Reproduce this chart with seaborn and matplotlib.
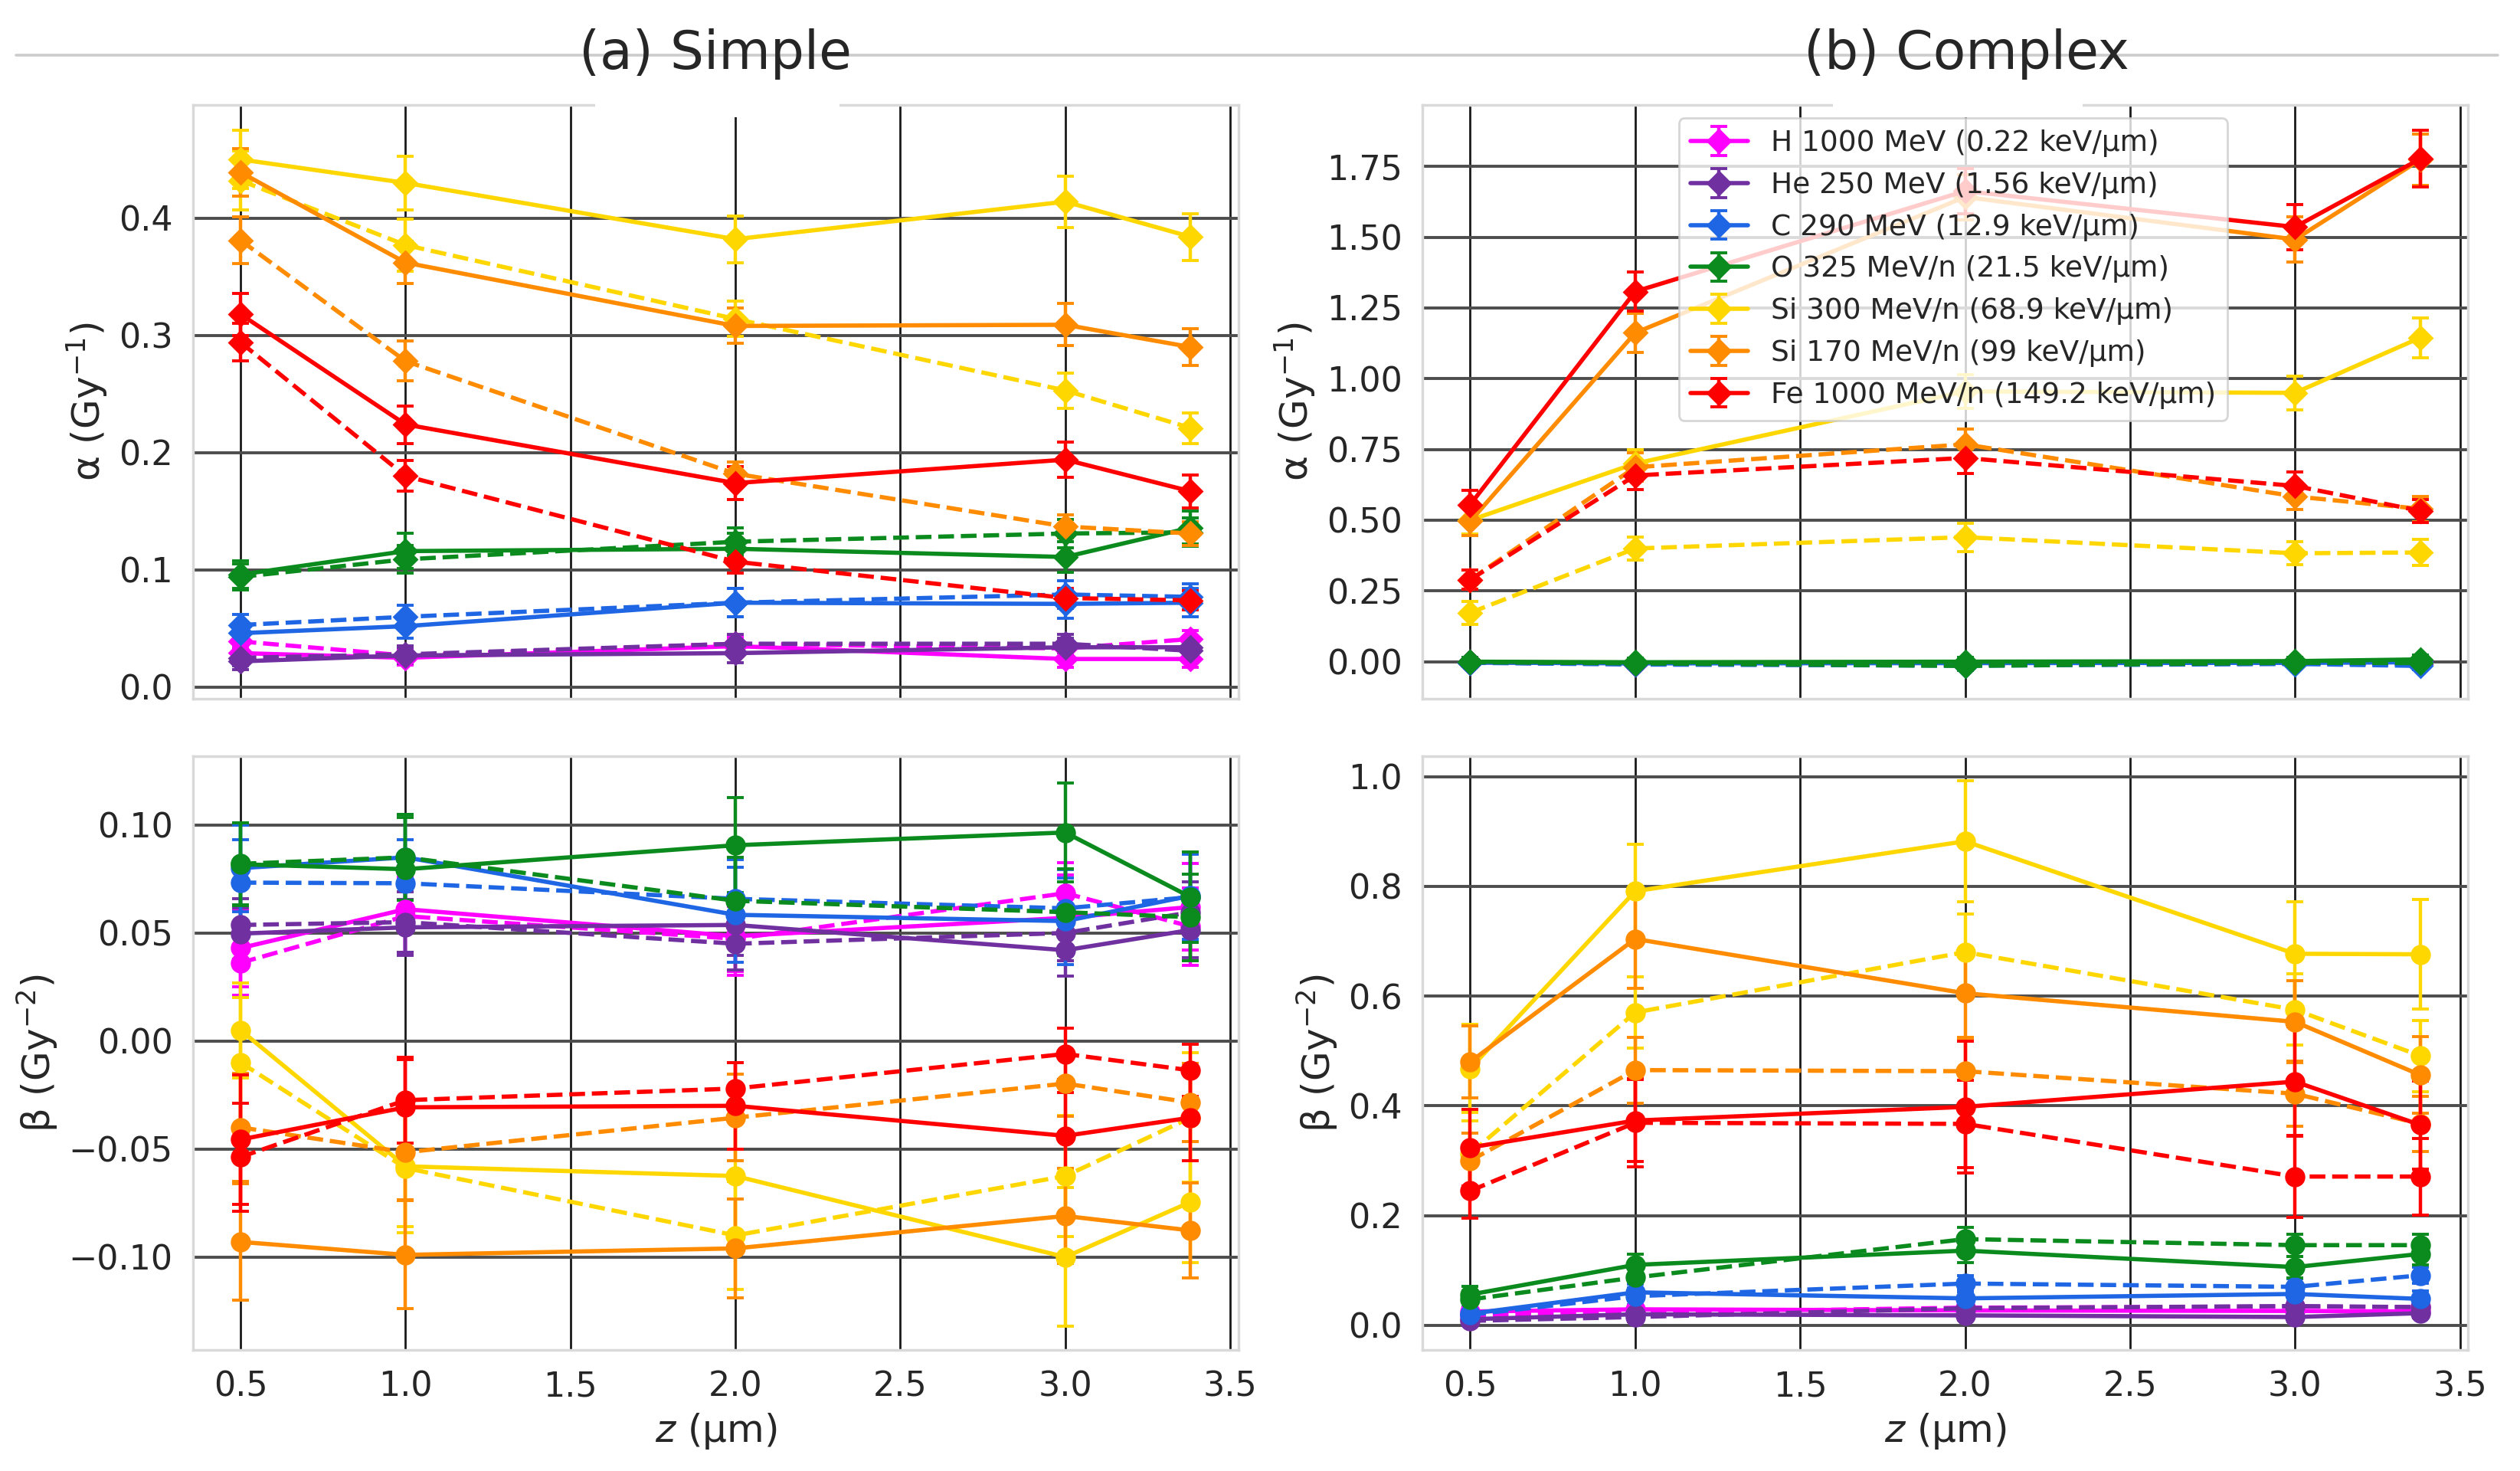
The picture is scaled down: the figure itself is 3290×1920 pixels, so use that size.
import seaborn as sns
import matplotlib.pyplot as plt
from matplotlib.lines import Line2D
from matplotlib.patches import Rectangle

# depth points (um)
z = [0.5, 1.0, 2.0, 3.0, 3.38]

ions = ["H 1000 MeV (0.22 keV/μm)", "He 250 MeV (1.56 keV/μm)", "C 290 MeV (12.9 keV/μm)",
        "O 325 MeV/n (21.5 keV/μm)", "Si 300 MeV/n (68.9 keV/μm)", "Si 170 MeV/n (99 keV/μm)",
        "Fe 1000 MeV/n (149.2 keV/μm)"]
cores = ["#ff00ff", "#7030a0", "#1f66e5", "#0b8a1e", "#ffd700", "#ff8c00", "#ff0000"]

# (a) simple - alpha
alfa_simples = [[0.029, 0.025, 0.035, 0.024, 0.024],
                [0.022, 0.027, 0.029, 0.034, 0.034],
                [0.046, 0.052, 0.072, 0.071, 0.072],
                [0.096, 0.116, 0.118, 0.111, 0.136],
                [0.450, 0.430, 0.382, 0.414, 0.384],
                [0.439, 0.362, 0.308, 0.309, 0.290],
                [0.318, 0.224, 0.174, 0.194, 0.167]]
alfa_simples_err = [[0.007, 0.006, 0.007, 0.007, 0.007],
                    [0.007, 0.007, 0.008, 0.008, 0.008],
                    [0.009, 0.010, 0.012, 0.012, 0.012],
                    [0.012, 0.015, 0.013, 0.013, 0.014],
                    [0.025, 0.023, 0.020, 0.022, 0.020],
                    [0.020, 0.018, 0.015, 0.018, 0.016],
                    [0.018, 0.016, 0.014, 0.015, 0.014]]
alfa_simples_tr = [[0.039, 0.027, 0.037, 0.033, 0.041],
                   [0.025, 0.028, 0.037, 0.037, 0.031],
                   [0.053, 0.060, 0.072, 0.079, 0.077],
                   [0.094, 0.109, 0.124, 0.131, 0.132],
                   [0.432, 0.377, 0.314, 0.253, 0.221],
                   [0.381, 0.278, 0.182, 0.137, 0.131],
                   [0.294, 0.180, 0.107, 0.076, 0.074]]
alfa_simples_tr_err = [[0.006, 0.006, 0.007, 0.007, 0.007],
                       [0.007, 0.007, 0.008, 0.008, 0.008],
                       [0.009, 0.010, 0.012, 0.012, 0.011],
                       [0.011, 0.012, 0.012, 0.012, 0.012],
                       [0.025, 0.022, 0.015, 0.015, 0.013],
                       [0.020, 0.017, 0.010, 0.010, 0.010],
                       [0.016, 0.013, 0.010, 0.008, 0.008]]

# (a) simple - beta
beta_simples = [[0.043, 0.061, 0.0485, 0.057, 0.062],
                [0.0497, 0.0526, 0.0537, 0.042, 0.0514],
                [0.080, 0.085, 0.0584, 0.0555, 0.0672],
                [0.0818, 0.0795, 0.0906, 0.0965, 0.0666],
                [0.005, -0.058, -0.0625, -0.100, -0.0745],
                [-0.093, -0.099, -0.096, -0.081, -0.0877],
                [-0.0456, -0.0307, -0.030, -0.0439, -0.0355]]
beta_simples_err = [[0.018, 0.020, 0.018, 0.020, 0.020],
                    [0.012, 0.013, 0.014, 0.012, 0.013],
                    [0.020, 0.020, 0.022, 0.020, 0.020],
                    [0.019, 0.024, 0.022, 0.023, 0.021],
                    [0.022, 0.028, 0.028, 0.032, 0.028],
                    [0.027, 0.025, 0.023, 0.022, 0.022],
                    [0.030, 0.022, 0.020, 0.020, 0.020]]
beta_simples_tr = [[0.0362, 0.0578, 0.0473, 0.0684, 0.053],
                   [0.0537, 0.055, 0.045, 0.050, 0.0596],
                   [0.0733, 0.073, 0.0658, 0.0614, 0.0666],
                   [0.082, 0.085, 0.0649, 0.0596, 0.0573],
                   [-0.010, -0.0588, -0.090, -0.0625, -0.0355],
                   [-0.040, -0.0515, -0.0355, -0.0197, -0.0285],
                   [-0.0537, -0.0274, -0.022, -0.006, -0.0136]]
beta_simples_tr_err = [[0.015, 0.018, 0.015, 0.014, 0.018],
                       [0.012, 0.014, 0.012, 0.013, 0.014],
                       [0.020, 0.020, 0.018, 0.018, 0.020],
                       [0.019, 0.020, 0.020, 0.020, 0.020],
                       [0.030, 0.030, 0.025, 0.028, 0.030],
                       [0.025, 0.022, 0.020, 0.015, 0.018],
                       [0.025, 0.020, 0.012, 0.012, 0.012]]

# (b) complex - alpha
alfa_complexo = [[-0.002, -0.004, -0.003, -0.002, 0.000],
                 [-0.002, -0.004, -0.004, -0.003, -0.001],
                 [-0.003, -0.006, -0.005, -0.004, -0.002],
                 [0.000, -0.002, 0.000, 0.002, 0.008],
                 [0.500, 0.700, 0.955, 0.950, 1.145],
                 [0.496, 1.162, 1.642, 1.492, 1.774],
                 [0.555, 1.308, 1.663, 1.536, 1.777]]
alfa_complexo_err = [[0.012, 0.012, 0.012, 0.012, 0.012],
                     [0.012, 0.012, 0.012, 0.012, 0.012],
                     [0.012, 0.012, 0.014, 0.012, 0.014],
                     [0.014, 0.014, 0.016, 0.014, 0.016],
                     [0.050, 0.050, 0.060, 0.060, 0.070],
                     [0.050, 0.070, 0.080, 0.080, 0.090],
                     [0.050, 0.070, 0.080, 0.080, 0.100]]
alfa_complexo_tr = [[-0.003, -0.008, -0.012, -0.006, -0.008],
                    [-0.003, -0.008, -0.010, -0.006, -0.010],
                    [-0.004, -0.010, -0.014, -0.008, -0.015],
                    [-0.002, -0.006, -0.015, -0.004, -0.005],
                    [0.173, 0.400, 0.440, 0.383, 0.386],
                    [0.290, 0.687, 0.768, 0.584, 0.540],
                    [0.290, 0.658, 0.720, 0.621, 0.533]]
alfa_complexo_tr_err = [[0.012, 0.012, 0.012, 0.012, 0.012],
                        [0.012, 0.012, 0.012, 0.012, 0.012],
                        [0.012, 0.012, 0.014, 0.012, 0.014],
                        [0.014, 0.014, 0.016, 0.014, 0.016],
                        [0.040, 0.040, 0.050, 0.040, 0.045],
                        [0.035, 0.050, 0.055, 0.045, 0.045],
                        [0.035, 0.050, 0.055, 0.050, 0.040]]

# (b) complex - beta
beta_complexo = [[0.025, 0.029, 0.027, 0.026, 0.025],
                 [0.011, 0.020, 0.018, 0.015, 0.022],
                 [0.021, 0.060, 0.049, 0.057, 0.048],
                 [0.056, 0.110, 0.136, 0.106, 0.130],
                 [0.468, 0.791, 0.882, 0.677, 0.676],
                 [0.480, 0.704, 0.605, 0.553, 0.456],
                 [0.324, 0.373, 0.398, 0.444, 0.365]]
beta_complexo_err = [[0.008, 0.008, 0.008, 0.008, 0.008],
                     [0.008, 0.008, 0.008, 0.008, 0.008],
                     [0.012, 0.015, 0.015, 0.015, 0.015],
                     [0.015, 0.020, 0.022, 0.020, 0.020],
                     [0.080, 0.085, 0.110, 0.095, 0.100],
                     [0.065, 0.090, 0.080, 0.075, 0.070],
                     [0.070, 0.075, 0.120, 0.100, 0.080]]
beta_complexo_tr = [[0.018, 0.023, 0.032, 0.034, 0.033],
                    [0.008, 0.015, 0.031, 0.035, 0.033],
                    [0.019, 0.053, 0.076, 0.070, 0.091],
                    [0.047, 0.087, 0.157, 0.146, 0.146],
                    [0.313, 0.570, 0.680, 0.575, 0.491],
                    [0.300, 0.465, 0.463, 0.422, 0.367],
                    [0.245, 0.369, 0.367, 0.271, 0.271]]
beta_complexo_tr_err = [[0.008, 0.008, 0.008, 0.008, 0.008],
                        [0.008, 0.008, 0.008, 0.008, 0.008],
                        [0.012, 0.015, 0.015, 0.015, 0.015],
                        [0.015, 0.020, 0.022, 0.020, 0.020],
                        [0.060, 0.065, 0.070, 0.065, 0.065],
                        [0.050, 0.060, 0.060, 0.060, 0.050],
                        [0.050, 0.080, 0.080, 0.075, 0.070]]

xticks = [0.5, 1.0, 1.5, 2.0, 2.5, 3.0, 3.5]
yticks_alfa_s = [0.0, 0.1, 0.2, 0.3, 0.4]
yticks_beta_s = [-0.10, -0.05, 0.00, 0.05, 0.10]
yticks_alfa_c = [0.00, 0.25, 0.50, 0.75, 1.00, 1.25, 1.50, 1.75]
yticks_beta_c = [0.0, 0.2, 0.4, 0.6, 0.8, 1.0]


def desenhar(ax, cheio, cheio_err, tracejado, tracejado_err, marcador, ms):
    for i in range(len(ions)):
        ax.errorbar(z, cheio[i], yerr=cheio_err[i], color=cores[i], ls='-', lw=2.0,
                    marker=marcador, ms=ms, capsize=4, elinewidth=1.6, capthick=1.4,
                    label=ions[i])
        ax.errorbar(z, tracejado[i], yerr=tracejado_err[i], color=cores[i], ls='--', lw=2.0,
                    marker=marcador, ms=ms, capsize=4, elinewidth=1.6, capthick=1.4)


sns.set_theme(style="whitegrid", rc={"grid.color": "0.2", "grid.linewidth": 1.0,
                                     "axes.edgecolor": "0.85", "mathtext.fontset": "dejavusans"})
plt.rcParams['font.family'] = ['DejaVu Sans']

fig, axes = plt.subplots(2, 2, figsize=(16.455, 9.6), dpi=200)
plt.subplots_adjust(left=0.0766, right=0.979, bottom=0.0823, top=0.9286, wspace=0.1766, hspace=0.0968)

desenhar(axes[0, 0], alfa_simples, alfa_simples_err, alfa_simples_tr, alfa_simples_tr_err, 'D', 7.5)
desenhar(axes[1, 0], beta_simples, beta_simples_err, beta_simples_tr, beta_simples_tr_err, 'o', 8.5)
desenhar(axes[0, 1], alfa_complexo, alfa_complexo_err, alfa_complexo_tr, alfa_complexo_tr_err, 'D', 7.5)
desenhar(axes[1, 1], beta_complexo, beta_complexo_err, beta_complexo_tr, beta_complexo_tr_err, 'o', 8.5)

axes[0, 0].set_ylim(-0.0099, 0.4964)
axes[1, 0].set_ylim(-0.143, 0.1318)
axes[0, 1].set_ylim(-0.131, 1.967)
axes[1, 1].set_ylim(-0.045, 1.037)
axes[0, 0].set_yticks(yticks_alfa_s)
axes[1, 0].set_yticks(yticks_beta_s)
axes[0, 1].set_yticks(yticks_alfa_c)
axes[1, 1].set_yticks(yticks_beta_c)

for ax in axes.flat:
    ax.set_xlim(0.356, 3.524)
    ax.set_xticks(xticks)
    ax.tick_params(labelsize=16)
    ax.xaxis.grid(True, color='0.1', lw=1.0)
    ax.yaxis.grid(True, color='0.3', lw=1.4)
for ax in axes[0]:
    ax.tick_params(labelbottom=False)
    ax.set_ylabel(r'α (Gy$^{-1}$)', fontsize=18)
for ax in axes[1]:
    ax.set_xlabel(r'$z$ (μm)', fontsize=18)
    ax.set_ylabel(r'β (Gy$^{-2}$)', fontsize=18)

axes[0, 1].legend(loc='upper left', bbox_to_anchor=(0.245, 0.978), borderaxespad=0,
                  fontsize=13.5, labelspacing=0.5, handlelength=2.0, framealpha=0.8)

# faixa de titulo no topo
fig.add_artist(Line2D([0.0065, 0.991], [0.9625, 0.9625], color='0.8', lw=1.3))
fig.add_artist(Rectangle((777 / 3291, 0.9203), 319 / 3291, 0.025, transform=fig.transFigure,
                         facecolor='white', edgecolor='none', zorder=5))
fig.add_artist(Rectangle((2393 / 3291, 0.9203), 326 / 3291, 0.025, transform=fig.transFigure,
                         facecolor='white', edgecolor='none', zorder=5))
fig.text(0.2839, 0.9635, '(a) Simple', fontsize=25, ha='center', va='center', zorder=6)
fig.text(0.7802, 0.9635, '(b) Complex', fontsize=25, ha='center', va='center', zorder=6)

fig.savefig('out.png', dpi=200)
